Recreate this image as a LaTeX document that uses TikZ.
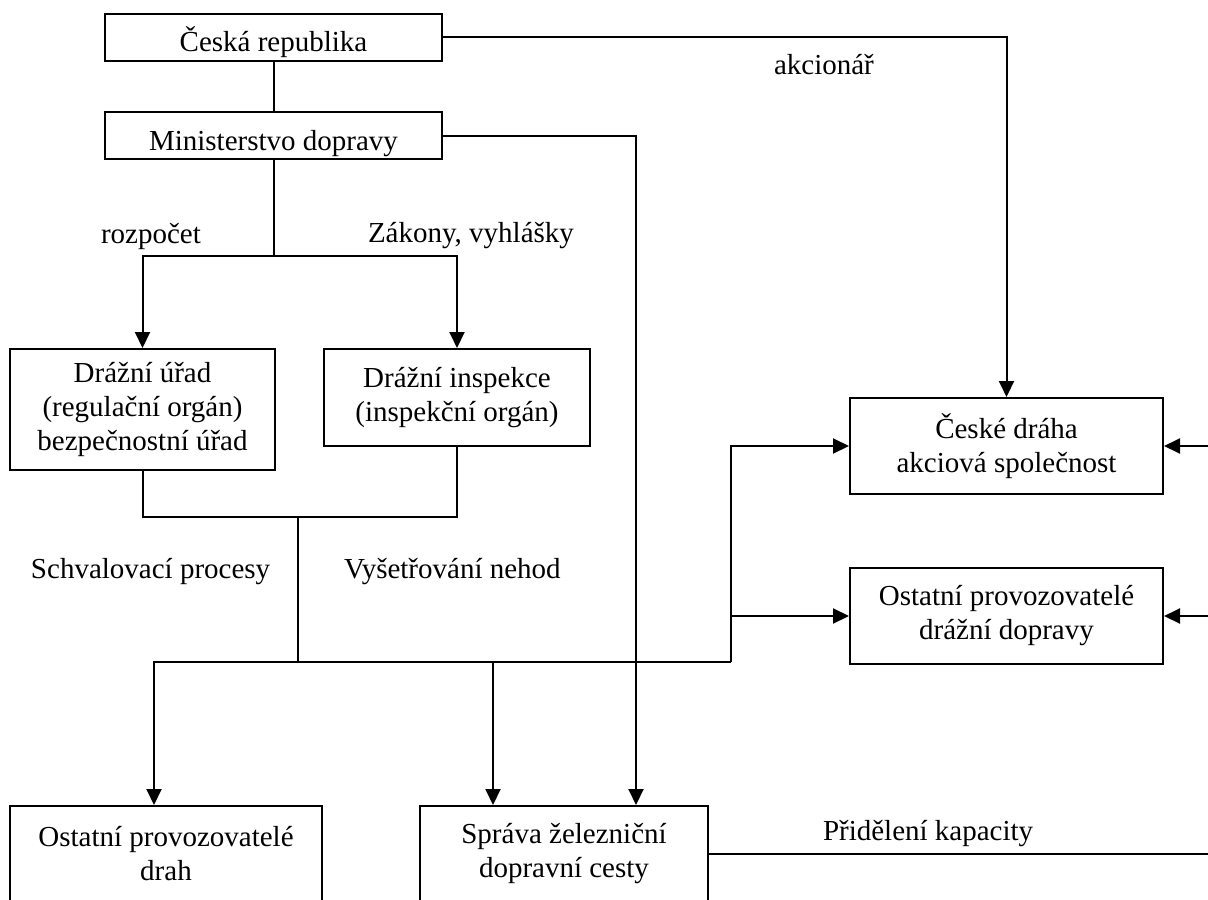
\documentclass[tikz,border=0pt]{standalone}
\usepackage{fontspec}
\setmainfont{Liberation Serif}
\usepackage{tikz}
\usetikzlibrary{arrows.meta}
\usetikzlibrary{positioning}
\tikzset{
    blok/.style={
           rectangle,
           draw=black, line width=1pt,
           inner sep=2pt,
           align=center,
           font=\fontsize{14.5}{17}\selectfont,
           },
    radek/.style={
           blok,
           minimum width=168.5pt,
           minimum height=23.5pt,
           text height=14.5pt,
           text depth=0pt,
           },
    popis/.style={
           anchor=base west,
           inner sep=0pt,
           font=\fontsize{14.5}{17}\selectfont,
           },
}

\begin{document}
\begin{tikzpicture}[x=0.5pt,y=-0.5pt,line width=1pt,>={Triangle[length=8pt,width=7.5pt]}]

    \clip (0,0) rectangle (1208,899);

    % stat a ministerstvo
    \node[radek] at (273.5,37.5)
        (CR) {Česká republika};
    \node[radek,below=24.5pt of CR]
        (MD) {Ministerstvo dopravy};

    % urady
    \node[blok,minimum width=132.5pt,minimum height=60.5pt] at (142.5,409.5)
        (DU) {Drážní úřad\\(regulační orgán)\\bezpečnostní úřad};
    \node[blok,minimum width=133pt,minimum height=48.5pt,right=23.5pt of DU.north east,anchor=north west]
        (DI) {Drážní inspekce\\(inspekční orgán)};

    % dopravci
    \node[blok,minimum width=156.5pt,minimum height=48pt] at (1006.5,446)
        (CD) {České dráha\\akciová společnost};
    \node[blok,minimum width=156.5pt,minimum height=48pt,below=36pt of CD]
        (OPD) {Ostatní provozovatelé\\drážní dopravy};

    % drahy
    \node[blok,minimum width=156pt,minimum height=48pt] at (166,854)
        (OPDrah) {Ostatní provozovatelé\\drah};
    \node[blok,minimum width=144pt,minimum height=48pt,right=48pt of OPDrah]
        (SZDC) {Správa železniční\\dopravní cesty};

    \coordinate (join) at (298,517);
    \coordinate (fork2) at (298,662);
    \coordinate (bus) at (731,662);
    \coordinate (rside) at (1216,854);

    \draw (CR) -- (MD);
    \draw[->] (CR.east) -| (CD.north);
    \draw[->] (MD.east) -| ([xshift=36pt]SZDC.north);

    \draw (MD.south) -- ++(0,96) coordinate (fork1);
    \draw[->] (fork1) -| (DU.north);
    \draw[->] (fork1) -| (DI.north);

    \draw (DU.south) |- (join) -| (DI.south);
    \draw (join) -- (fork2);
    \draw[->] (fork2) -| ([xshift=-6pt]OPDrah.north);
    \draw[->] (fork2) -| ([xshift=-35.5pt]SZDC.north);
    \draw (fork2) -- (bus);
    \draw[->] (bus) |- (CD.west);
    \draw[->] (bus |- OPD.west) -- (OPD.west);

    \draw (SZDC.east) -- (SZDC.east -| rside) -- (CD.east -| rside);
    \draw[->] (CD.east -| rside) -- (CD.east);
    \draw[->] (OPD.east -| rside) -- (OPD.east);

    % popisky
    \node[popis] (akc) at (773,75) {akcionář};
    \node[popis] (rozp) at (100,243) {rozpočet};
    \node[popis] (zak) at (367,242) {Zákony, vyhlášky};
    \node[popis] (schv) at (30,578) {Schvalovací procesy};
    \node[popis] (vys) at (343,578) {Vyšetřování nehod};
    \node[popis] (prid) at (822,840) {Přidělení kapacity};

\end{tikzpicture}
\end{document}
